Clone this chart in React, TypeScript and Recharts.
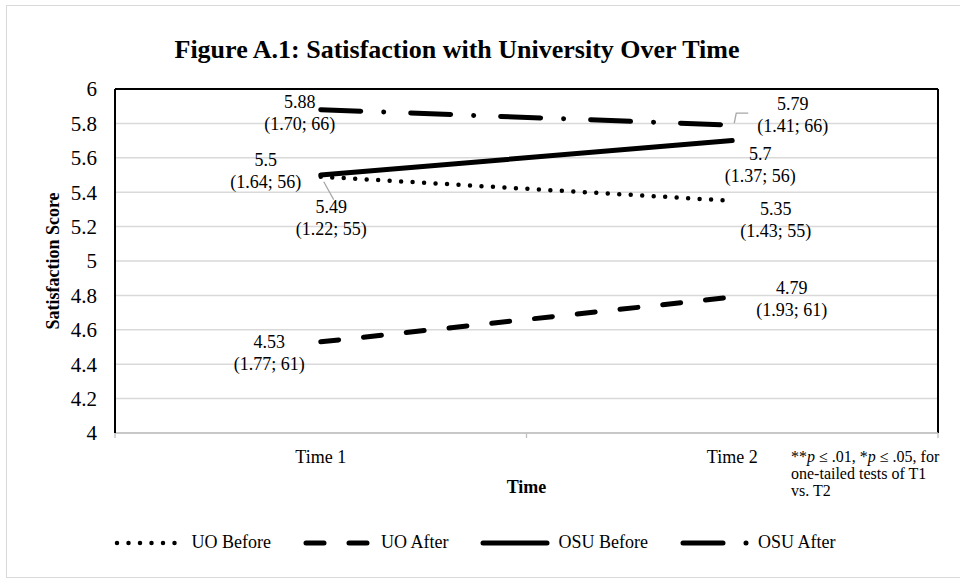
import { LineChart, Line, XAxis, YAxis, CartesianGrid, Legend, LabelList, ReferenceLine } from 'recharts';

const categories = ['Time 1', 'Time 2'];

const uoBefore = [5.49, 5.35];
const uoBeforeSd = [1.22, 1.43];
const uoBeforeN = [55, 55];

const uoAfter = [4.53, 4.79];
const uoAfterSd = [1.77, 1.93];
const uoAfterN = [61, 61];

const osuBefore = [5.5, 5.7];
const osuBeforeSd = [1.64, 1.37];
const osuBeforeN = [56, 56];

const osuAfter = [5.88, 5.79];
const osuAfterSd = [1.7, 1.41];
const osuAfterN = [66, 66];

const yTicks = [4, 4.2, 4.4, 4.6, 4.8, 5, 5.2, 5.4, 5.6, 5.8, 6];

const FONT = "'Liberation Serif', 'Times New Roman', serif";

// one row per category, x sits in the middle of its band
const data = categories.map((name, i) => ({
  x: i + 0.5,
  name,
  uoBefore: uoBefore[i],
  uoAfter: uoAfter[i],
  osuBefore: osuBefore[i],
  osuAfter: osuAfter[i],
}));

type Offset = { dx: number; dy: number; leader?: number[][] };

const series = [
  {
    key: 'uoBefore', name: 'UO Before', dash: '0 11.5', width: 4.5, sd: uoBeforeSd, n: uoBeforeN,
    offsets: [{ dx: 10.5, dy: 41.5, leader: [[3, 5], [13, 23]] }, { dx: 43.5, dy: 19 }] as Offset[],
  },
  {
    key: 'uoAfter', name: 'UO After', dash: '18 25', width: 5, sd: uoAfterSd, n: uoAfterN,
    offsets: [{ dx: -51.5, dy: 11 }, { dx: 59.5, dy: 2 }] as Offset[],
  },
  {
    key: 'osuBefore', name: 'OSU Before', dash: undefined, width: 5, sd: osuBeforeSd, n: osuBeforeN,
    offsets: [{ dx: -55, dy: -4 }, { dx: 28, dy: 24 }] as Offset[],
  },
  {
    key: 'osuAfter', name: 'OSU After', dash: '40 23 0.01 27', width: 5, sd: osuAfterSd, n: osuAfterN,
    offsets: [{ dx: -21, dy: 3 }, { dx: 60.5, dy: -10.5, leader: [[2, -2], [4, -12], [16, -12]] }] as Offset[],
  },
];

function makeLabel(s: (typeof series)[number]) {
  return (props: any) => {
    const { x, y, index, value } = props;
    const o = s.offsets[index];
    if (!o || x == null || y == null) return null;
    const cx = x + o.dx;
    const cy = y + o.dy;
    return (
      <g>
        {o.leader && (
          <polyline
            points={o.leader.map(([a, b]) => `${x + a},${y + b}`).join(' ')}
            fill="none"
            stroke="#a6a6a6"
            strokeWidth={1.3}
          />
        )}
        <text x={cx} y={cy - 11 + 6} textAnchor="middle" fontSize={18} fill="#000" fontFamily={FONT}>
          {String(value)}
        </text>
        <text x={cx} y={cy + 11 + 6} textAnchor="middle" fontSize={18} fill="#000" fontFamily={FONT}>
          {`(${s.sd[index].toFixed(2)}; ${s.n[index]})`}
        </text>
      </g>
    );
  };
}

function XTick(props: any) {
  const { x, y, payload } = props;
  const v = payload.value as number;
  if (Number.isInteger(v)) {
    return <line x1={x} x2={x} y1={y} y2={y + 5} stroke="#bfbfbf" strokeWidth={1.3} />;
  }
  return (
    <text x={x} y={y + 30} textAnchor="middle" fontSize={18} fill="#000" fontFamily={FONT}>
      {categories[Math.floor(v)]}
    </text>
  );
}

// legend drawn in series order (recharts would sort it otherwise)
function LegendContent() {
  return (
    <div style={{ display: 'flex', justifyContent: 'center', alignItems: 'center', fontFamily: FONT, fontSize: 18, color: '#000' }}>
      {series.map((s, i) => (
        <div key={s.key} style={{ display: 'flex', alignItems: 'center', marginLeft: i === 0 ? 0 : 32 }}>
          <svg width={70} height={12} style={{ marginRight: 8 }}>
            <line x1={3} x2={67} y1={6} y2={6} stroke="#000" strokeWidth={s.width} strokeDasharray={s.dash} strokeLinecap="round" />
          </svg>
          <span>{s.name}</span>
        </div>
      ))}
    </div>
  );
}

export default function App() {
  return (
    <div style={{ position: 'absolute', left: 0, top: 0, width: 960, height: 581, background: '#fff', fontFamily: FONT, overflow: 'hidden' }}>
      <div style={{ position: 'absolute', left: 6, top: 5, width: 970, height: 573, border: '1.5px solid #d9d9d9', boxSizing: 'border-box' }} />
      <LineChart width={960} height={581} data={data} margin={{ top: 89, right: 22, left: 0, bottom: 0 }}>
        <CartesianGrid vertical={false} stroke="#d9d9d9" strokeWidth={1.5} />
        <XAxis
          dataKey="x"
          type="number"
          domain={[0, 2]}
          ticks={[0, 0.5, 1, 1.5, 2]}
          interval={0}
          height={148}
          stroke="#bfbfbf"
          strokeWidth={1.5}
          tickLine={false}
          tickSize={0}
          tickMargin={0}
          tick={<XTick />}
          label={{ value: 'Time', position: 'insideTop', offset: 47, fill: '#000', fontSize: 18, fontWeight: 'bold', fontFamily: FONT }}
        />
        <YAxis
          domain={[4, 6]}
          ticks={yTicks}
          interval={0}
          width={115}
          stroke="#000"
          strokeWidth={2}
          tickLine={false}
          tickSize={0}
          tickMargin={18}
          tick={{ fill: '#000', fontSize: 21, fontFamily: FONT }}
          tickFormatter={(v: number) => String(Number(v.toFixed(1)))}
          label={{
            value: 'Satisfaction Score',
            angle: -90,
            position: 'insideLeft',
            offset: 53,
            fill: '#000',
            fontSize: 18,
            fontWeight: 'bold',
            fontFamily: FONT,
            style: { textAnchor: 'middle' },
          }}
        />
        {/* plot frame: black top and right edges */}
        <ReferenceLine y={6} stroke="#000" strokeWidth={2} />
        <ReferenceLine x={2} stroke="#000" strokeWidth={2} />
        {series.map((s) => (
          <Line
            key={s.key}
            type="linear"
            dataKey={s.key}
            name={s.name}
            stroke="#000"
            strokeWidth={s.width}
            strokeDasharray={s.dash}
            strokeLinecap="round"
            dot={false}
            activeDot={false}
            isAnimationActive={false}
          >
            <LabelList dataKey={s.key} content={makeLabel(s)} />
          </Line>
        ))}
        <Legend
          layout="horizontal"
          verticalAlign="middle"
          align="center"
          wrapperStyle={{ top: 532, left: 0, width: 949 }}
          content={<LegendContent />}
        />
      </LineChart>
      <div
        style={{
          position: 'absolute', left: 0, top: 35, width: 914, textAlign: 'center',
          fontSize: 26, lineHeight: '30px', fontWeight: 'bold', pointerEvents: 'none',
        }}
      >
        Figure A.1: Satisfaction with University Over Time
      </div>
      <div style={{ position: 'absolute', left: 791, top: 448, fontSize: 16, lineHeight: '17px', pointerEvents: 'none' }}>
        **<i>p</i> ≤ .01, *<i>p</i> ≤ .05, for<br />one-tailed tests of T1<br />vs. T2
      </div>
    </div>
  );
}
